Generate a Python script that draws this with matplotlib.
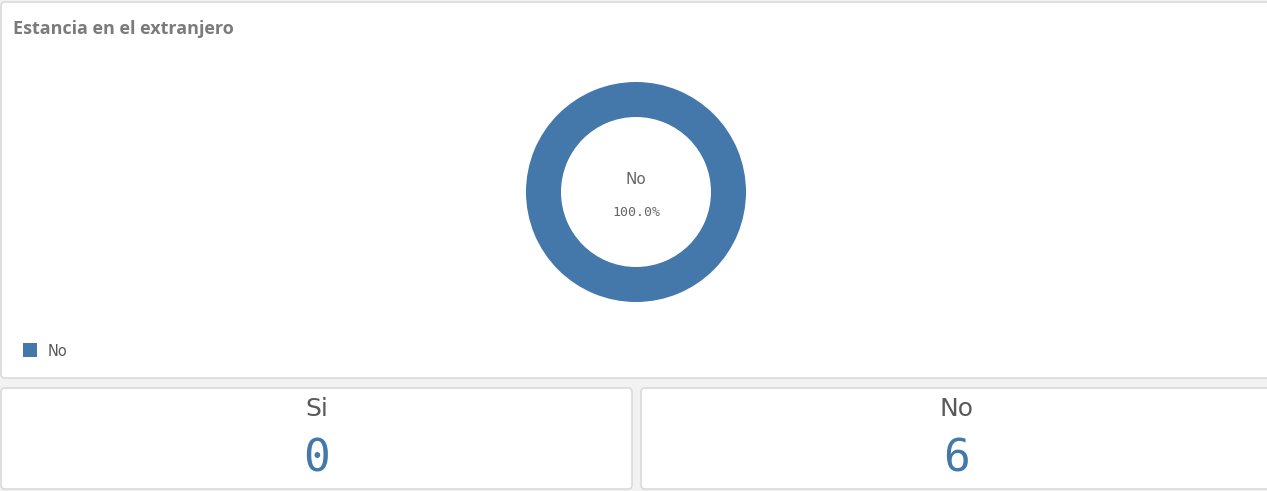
"""Survey dashboard: stay abroad donut with KPI cards."""

import matplotlib

matplotlib.use("Agg")

import matplotlib.pyplot as plt  # noqa: E402
from matplotlib.patches import FancyBboxPatch, Rectangle  # noqa: E402

# Answers and their counts
categories = ["Si", "No"]
counts = [0, 6]
title = "Estancia en el extranjero"

BLUE = "#4477aa"
GREY_TEXT = "#7b7b7b"
W, H = 1267, 491


def card(ax, x0, y0, x1, y1):
    box = FancyBboxPatch(
        (x0, y0), x1 - x0, y1 - y0,
        boxstyle="round,pad=0,rounding_size=4",
        facecolor="white", edgecolor="#dadada", linewidth=1.2,
    )
    ax.add_patch(box)


fig = plt.figure(figsize=(W / 100, H / 100), dpi=100)
fig.patch.set_facecolor("#f2f2f2")

base = fig.add_axes([0, 0, 1, 1])
base.set_xlim(0, W)
base.set_ylim(H, 0)
base.axis("off")

# Panels
card(base, 1, 2, W + 10, 378)
card(base, 1, 388, 632, 489)
card(base, 641, 388, W + 10, 489)

base.text(13, 29, title, fontsize=13, fontweight="bold", color=GREY_TEXT,
          ha="left", va="center", family="Open Sans")

# Donut chart, only non-empty answers are drawn
shown = [(c, v) for c, v in zip(categories, counts) if v > 0]
total = sum(counts)
cx, cy, r = 636, 192, 110
donut = fig.add_axes([(cx - r) / W, (H - cy - r) / H, 2 * r / W, 2 * r / H])
donut.pie([v for _, v in shown], colors=[BLUE] * len(shown), radius=1,
          startangle=90, counterclock=False,
          wedgeprops=dict(width=35 / 110, edgecolor="none"))
donut.set_xlim(-1, 1)
donut.set_ylim(-1, 1)
donut.set_aspect("equal")
donut.axis("off")

top_label, top_value = max(shown, key=lambda item: item[1])
base.text(cx, 179, top_label, fontsize=11, color="#666666", ha="center", va="center")
base.text(cx, 212, f"{100 * top_value / total:.1f}%", fontsize=9.5, color="#666666",
          ha="center", va="center", family="DejaVu Sans Mono")

# Legend
for i, (label, _) in enumerate(shown):
    y = 350 + i * 20
    base.add_patch(Rectangle((23, y - 7), 14, 14, facecolor=BLUE, edgecolor="none"))
    base.text(48, y + 1, label, fontsize=10.5, color="#595959", ha="left", va="center")

# KPI cards
centers = [317, 957]
for xc, label, value in zip(centers, categories, counts):
    base.text(xc, 409, label, fontsize=18, color="#595959", ha="center", va="center")
    base.text(xc, 459, str(value), fontsize=32, color=BLUE, ha="center", va="center",
              family="DejaVu Sans Mono")

fig.savefig("out.png", dpi=100, facecolor=fig.get_facecolor())
plt.close(fig)
